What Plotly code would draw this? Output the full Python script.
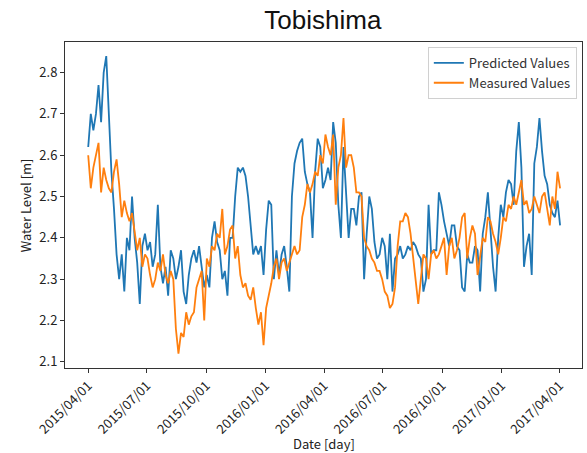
import pandas as pd
import plotly.graph_objects as go

# sampled every 4 days starting 2015-04-01
start_date = "2015-04-01"
step = "4D"

predicted = [
    2.62, 2.70, 2.66, 2.70, 2.77, 2.68, 2.80, 2.84, 2.70, 2.56,
    2.47, 2.36, 2.30, 2.36, 2.27, 2.40, 2.37, 2.50, 2.40, 2.34,
    2.24, 2.38, 2.41, 2.37, 2.39, 2.33, 2.36, 2.48, 2.33, 2.29,
    2.33, 2.26, 2.37, 2.35, 2.30, 2.33, 2.37, 2.27, 2.24, 2.31,
    2.35, 2.37, 2.34, 2.38, 2.33, 2.28, 2.31, 2.28, 2.40, 2.44,
    2.39, 2.37, 2.30, 2.32, 2.26, 2.40, 2.40, 2.50, 2.57, 2.56,
    2.57, 2.55, 2.50, 2.43, 2.36, 2.38, 2.36, 2.38, 2.31, 2.42,
    2.49, 2.48, 2.30, 2.37, 2.31, 2.36, 2.38, 2.33, 2.27, 2.50,
    2.58, 2.61, 2.63, 2.64, 2.56, 2.53, 2.51, 2.40, 2.56, 2.64,
    2.62, 2.52, 2.54, 2.57, 2.54, 2.68, 2.63, 2.48, 2.40, 2.62,
    2.50, 2.40, 2.47, 2.47, 2.43, 2.50, 2.51, 2.30, 2.41, 2.50,
    2.47, 2.39, 2.35, 2.36, 2.40, 2.38, 2.30, 2.41, 2.27, 2.35,
    2.36, 2.38, 2.35, 2.36, 2.38, 2.37, 2.39, 2.38, 2.36, 2.35,
    2.27, 2.30, 2.48, 2.36, 2.37, 2.37, 2.51, 2.48, 2.44, 2.41,
    2.38, 2.43, 2.43, 2.38, 2.37, 2.28, 2.27, 2.36, 2.34, 2.34,
    2.38, 2.37, 2.27, 2.41, 2.45, 2.51, 2.41, 2.33, 2.27, 2.40,
    2.48, 2.45, 2.51, 2.54, 2.53, 2.48, 2.61, 2.68, 2.57, 2.33,
    2.38, 2.41, 2.31, 2.58, 2.62, 2.69, 2.61, 2.55, 2.53, 2.48,
    2.46, 2.45, 2.49, 2.43,
]

measured = [
    2.60, 2.52, 2.57, 2.60, 2.63, 2.51, 2.57, 2.54, 2.52, 2.51,
    2.56, 2.59, 2.53, 2.45, 2.49, 2.46, 2.44, 2.46, 2.42, 2.37,
    2.40, 2.33, 2.36, 2.35, 2.31, 2.28, 2.30, 2.34, 2.32, 2.36,
    2.31, 2.29, 2.32, 2.30, 2.18, 2.12, 2.17, 2.16, 2.22, 2.19,
    2.21, 2.22, 2.28, 2.30, 2.32, 2.20, 2.35, 2.33, 2.38, 2.37,
    2.41, 2.40, 2.47, 2.36, 2.38, 2.42, 2.43, 2.35, 2.38, 2.31,
    2.28, 2.29, 2.26, 2.25, 2.28, 2.23, 2.19, 2.22, 2.14, 2.23,
    2.26, 2.29, 2.33, 2.35, 2.30, 2.34, 2.35, 2.32, 2.34, 2.36,
    2.38, 2.36, 2.37, 2.45, 2.48, 2.53, 2.51, 2.53, 2.56, 2.55,
    2.60, 2.58, 2.65, 2.62, 2.60, 2.65, 2.48, 2.57, 2.60, 2.69,
    2.57, 2.60, 2.60, 2.57, 2.51, 2.51, 2.50, 2.40, 2.38, 2.37,
    2.35, 2.34, 2.32, 2.32, 2.30, 2.27, 2.26, 2.23, 2.24, 2.28,
    2.38, 2.44, 2.44, 2.46, 2.45, 2.41, 2.35, 2.30, 2.24, 2.30,
    2.36, 2.35, 2.30, 2.36, 2.37, 2.35, 2.36, 2.38, 2.40, 2.31,
    2.38, 2.40, 2.35, 2.37, 2.40, 2.45, 2.46, 2.35, 2.40, 2.43,
    2.41, 2.31, 2.35, 2.40, 2.39, 2.45, 2.44, 2.41, 2.39, 2.36,
    2.40, 2.45, 2.44, 2.48, 2.47, 2.50, 2.48, 2.51, 2.54, 2.48,
    2.49, 2.46, 2.47, 2.50, 2.48, 2.46, 2.50, 2.51, 2.47, 2.43,
    2.50, 2.47, 2.56, 2.52,
]

tick_dates = ["2015-04-01", "2015-07-01", "2015-10-01", "2016-01-01", "2016-04-01",
              "2016-07-01", "2016-10-01", "2017-01-01", "2017-04-01"]
tick_labels = ["2015/04/01", "2015/07/01", "2015/10/01", "2016/01/01", "2016/04/01",
               "2016/07/01", "2016/10/01", "2017/01/01", "2017/04/01"]
y_ticks = [2.1, 2.2, 2.3, 2.4, 2.5, 2.6, 2.7, 2.8]

dates = pd.date_range(start_date, periods=len(predicted), freq=step)

font_main = "Noto Sans CJK JP, Noto Sans, sans-serif"

fig = go.Figure()
fig.add_trace(go.Scatter(x=dates, y=predicted, mode="lines", name="Predicted Values",
                         line=dict(color="#1f77b4", width=1.8)))
fig.add_trace(go.Scatter(x=dates, y=measured, mode="lines", name="Measured Values",
                         line=dict(color="#ff7f0e", width=1.8)))

fig.update_layout(
    width=587, height=453,
    margin=dict(l=65, r=5, t=42, b=85),
    paper_bgcolor="white", plot_bgcolor="white",
    title=dict(text="Tobishima", x=0.55, xanchor="center", y=0.955, yanchor="middle",
               font=dict(family="Liberation Sans, Arial, sans-serif", size=26, color="#111")),
    font=dict(family=font_main, size=13, color="#222"),
    legend=dict(x=0.99, y=0.985, xanchor="right", yanchor="top",
                bgcolor="rgba(255,255,255,0.9)", bordercolor="#d0d0d0", borderwidth=1,
                tracegroupgap=0, itemwidth=30,
                font=dict(family=font_main, size=13, color="#333")),
    showlegend=True,
    annotations=[
        dict(text="Water Level [m]", xref="paper", yref="paper", x=-0.077, y=0.5,
             xanchor="center", yanchor="middle", textangle=-90, showarrow=False,
             font=dict(family=font_main, size=13, color="#222")),
        dict(text="Date [day]", xref="paper", yref="paper", x=0.5, y=-0.232,
             xanchor="center", yanchor="middle", showarrow=False,
             font=dict(family=font_main, size=13, color="#222")),
    ],
)
fig.update_xaxes(
    range=["2015-02-24", "2017-05-06"], automargin=False,
    tickvals=pd.to_datetime(tick_dates), ticktext=tick_labels, tickangle=-45,
    ticks="outside", ticklen=4, tickcolor="#333",
    showline=True, linecolor="#333", linewidth=1, mirror=True, showgrid=False, zeroline=False,
    tickfont=dict(family=font_main, size=13, color="#222"),
)
fig.update_yaxes(
    range=[2.085, 2.874], automargin=False,
    tickvals=y_ticks, ticktext=[f"{v:.1f}" for v in y_ticks],
    ticks="outside", ticklen=4, tickcolor="#333",
    showline=True, linecolor="#333", linewidth=1, mirror=True, showgrid=False, zeroline=False,
    tickfont=dict(family=font_main, size=13, color="#222"),
)

fig.write_html("out.html")
